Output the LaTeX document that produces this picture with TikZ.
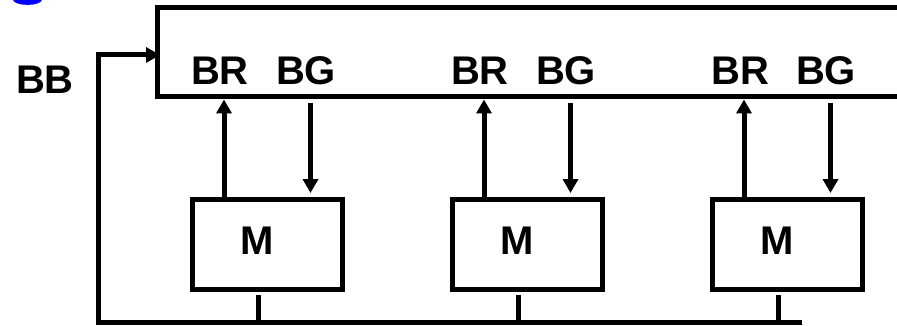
\documentclass[tikz,border=0pt]{standalone}
\usepackage{fontspec}
\setmainfont{Liberation Sans}
\usetikzlibrary{arrows.meta}
\begin{document}
\begin{tikzpicture}[x=1pt,y=-1pt, line width=5pt,
  lbl/.style={font=\fontsize{40}{42}\selectfont\bfseries, inner sep=0pt, anchor=base},
  mbox/.style={draw, minimum width=150pt, minimum height=90pt, inner sep=0pt},
  arr/.style={-{Triangle[width=15pt,length=14pt]}}]
\useasboundingbox (0,0) rectangle (897,326);
\fill[blue] (13,0) .. controls (15,6.5) and (40,6.5) .. (42,0) -- cycle;
% bus
\coordinate (busTR) at (897,7.5);
\coordinate (busTL) at (157.5,7.5);
\coordinate (busBL) at (157.5,97);
\coordinate (busBR) at (897,97);
\draw (busTR) -- (busTL) -- (busBL) -- (busBR);
% BB loop
\coordinate (botR) at (802,322);
\coordinate (botL) at (98.5,322);
\coordinate (bbC) at (98.5,55);
\coordinate (bbT) at (160,55);
\draw[arr] (botR) -- (botL) -- (bbC) -- (bbT);
\node[lbl] (bb) at (45,94) {BB};
\foreach \i/\cx in {1/267.5, 2/527.5, 3/787.5} {
  \node[mbox] (m\i) at (\cx,244.5) {};
  \node[lbl] (mt\i) at (\cx-10,254) {M};
  \coordinate (up\i) at (\cx-43.5,99.5);
  \draw[arr] (m\i.north -| up\i) -- (up\i);
  \coordinate (dn\i) at (\cx+43,103);
  \coordinate (dt\i) at (\cx+43,193);
  \draw[arr] (dn\i) -- (dt\i);
  \node[lbl] (br\i) at (\cx-47.5,85) {BR};
  \node[lbl] (bg\i) at (\cx+38.5,85) {BG};
  \coordinate (st\i) at (\cx-9.5,295);
  \draw (st\i) -- (st\i |- botL);
}
\end{tikzpicture}
\end{document}
